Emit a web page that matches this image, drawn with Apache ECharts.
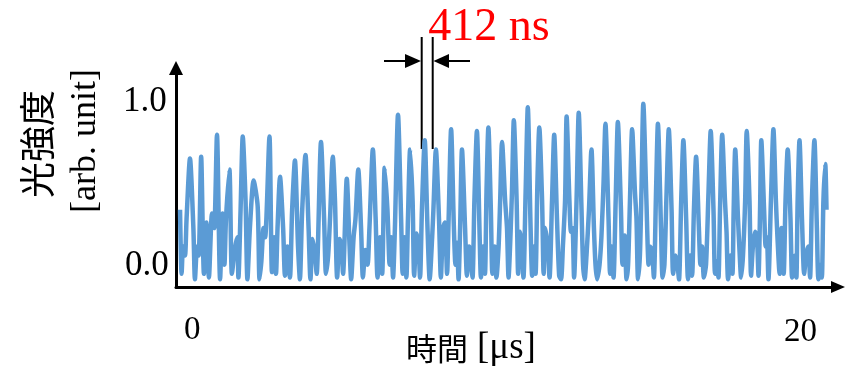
<!DOCTYPE html>
<html>
<head>
<meta charset="utf-8">
<script src="https://cdn.jsdelivr.net/npm/echarts@6/dist/echarts.min.js"></script>
<style>
  html, body { margin: 0; padding: 0; background: #fff; }
  #chart { width: 846px; height: 367px; }
</style>
</head>
<body>
<div id="chart"></div>
<script>
// time [us]
const timeUs = [
  0.00, 0.05, 0.10, 0.16, 0.21, 0.32, 0.43, 0.48, 0.55, 0.60,
  0.68, 0.77, 0.85, 0.93, 1.03, 1.10, 1.19, 1.29, 1.37, 1.43,
  1.48, 1.59, 1.67, 1.76, 1.84, 1.88, 1.95, 2.02, 2.11, 2.17,
  2.25, 2.37, 2.50, 2.56, 2.62, 2.69, 2.74, 2.88, 2.96, 3.03,
  3.09, 3.14, 3.22, 3.32, 3.38, 3.46, 3.54, 3.61, 3.70, 3.80,
  3.86, 3.93, 4.04, 4.14, 4.20, 4.27, 4.35, 4.40, 4.54, 4.64,
  4.70, 4.77, 4.83, 4.92, 4.99, 5.06, 5.14, 5.20, 5.25, 5.37,
  5.46, 5.51, 5.59, 5.65, 5.74, 5.83, 5.89, 5.97, 6.04, 6.10,
  6.21, 6.30, 6.36, 6.44, 6.51, 6.59, 6.68, 6.75, 6.80, 6.86,
  6.92, 7.02, 7.12, 7.17, 7.23, 7.29, 7.34, 7.41, 7.49, 7.54,
  7.62, 7.68, 7.73, 7.79, 7.88, 7.97, 8.04, 8.12, 8.16, 8.24,
  8.34, 8.40, 8.47, 8.53, 8.60, 8.65, 8.73, 8.82, 8.87, 8.92,
  8.97, 9.02, 9.08, 9.18, 9.24, 9.31, 9.37, 9.42, 9.48, 9.56,
  9.65, 9.69, 9.76, 9.82, 9.87, 9.93, 10.01, 10.06, 10.13, 10.19,
  10.26, 10.31, 10.37, 10.47, 10.53, 10.58, 10.64, 10.69, 10.75, 10.84,
  10.89, 10.95, 11.01, 11.06, 11.13, 11.20, 11.29, 11.34, 11.40, 11.45,
  11.51, 11.57, 11.66, 11.71, 11.76, 11.84, 11.90, 11.98, 12.05, 12.14,
  12.21, 12.27, 12.33, 12.40, 12.45, 12.54, 12.59, 12.64, 12.69, 12.77,
  12.84, 12.93, 12.98, 13.03, 13.09, 13.17, 13.25, 13.33, 13.38, 13.43,
  13.51, 13.57, 13.64, 13.70, 13.80, 13.85, 13.90, 13.96, 14.03, 14.10,
  14.20, 14.25, 14.32, 14.38, 14.43, 14.49, 14.56, 14.65, 14.70, 14.75,
  14.81, 14.86, 14.92, 15.02, 15.09, 15.13, 15.20, 15.26, 15.33, 15.39,
  15.49, 15.54, 15.60, 15.67, 15.74, 15.83, 15.88, 15.96, 16.02, 16.07,
  16.14, 16.21, 16.30, 16.36, 16.43, 16.49, 16.55, 16.62, 16.71, 16.76,
  16.81, 16.87, 16.94, 17.02, 17.09, 17.18, 17.23, 17.29, 17.34, 17.39,
  17.46, 17.55, 17.60, 17.65, 17.73, 17.79, 17.83, 17.88, 17.97, 18.02,
  18.07, 18.13, 18.20, 18.25, 18.34, 18.39, 18.45, 18.52, 18.58, 18.63,
  18.68, 18.72, 18.81, 18.86, 18.90, 18.95, 19.03, 19.11, 19.19, 19.24,
  19.31, 19.37, 19.44, 19.50, 19.57, 19.66, 19.71, 19.76, 19.81, 19.85,
  19.89, 19.95, 20.03, 20.10, 20.16, 20.23, 20.29, 20.35, 20.43, 20.51,
  20.56, 20.63, 20.67, 20.72, 20.78, 20.82
]

// light intensity [arb. unit]
const intensity = [
  0.40, 0.05, 0.20, 0.15, 0.35, 0.68, 0.30, 0.02, 0.20, 0.15,
  0.69, 0.05, 0.33, 0.03, 0.38, 0.30, 0.81, 0.02, 0.38, 0.10,
  0.35, 0.62, 0.05, 0.18, 0.25, 0.03, 0.40, 0.80, 0.45, 0.02,
  0.30, 0.56, 0.42, 0.02, 0.12, 0.30, 0.25, 0.80, 0.06, 0.25,
  0.05, 0.30, 0.58, 0.30, 0.04, 0.20, 0.03, 0.40, 0.67, 0.20,
  0.02, 0.38, 0.70, 0.30, 0.02, 0.24, 0.15, 0.05, 0.77, 0.35,
  0.05, 0.15, 0.35, 0.69, 0.45, 0.03, 0.24, 0.20, 0.05, 0.57,
  0.20, 0.02, 0.25, 0.35, 0.62, 0.30, 0.03, 0.18, 0.10, 0.30,
  0.73, 0.35, 0.03, 0.25, 0.05, 0.63, 0.40, 0.10, 0.25, 0.03,
  0.30, 0.92, 0.35, 0.05, 0.25, 0.03, 0.35, 0.73, 0.45, 0.04,
  0.27, 0.20, 0.03, 0.40, 0.78, 0.30, 0.02, 0.25, 0.40, 0.73,
  0.35, 0.03, 0.30, 0.33, 0.05, 0.35, 0.84, 0.30, 0.10, 0.22,
  0.02, 0.30, 0.73, 0.30, 0.04, 0.20, 0.12, 0.03, 0.45, 0.83,
  0.25, 0.03, 0.20, 0.05, 0.50, 0.85, 0.40, 0.05, 0.20, 0.03,
  0.20, 0.45, 0.77, 0.45, 0.30, 0.03, 0.25, 0.50, 0.89, 0.45,
  0.05, 0.28, 0.20, 0.03, 0.50, 0.96, 0.30, 0.04, 0.20, 0.05,
  0.55, 0.85, 0.45, 0.05, 0.30, 0.20, 0.03, 0.45, 0.81, 0.35,
  0.04, 0.02, 0.20, 0.45, 0.91, 0.45, 0.28, 0.30, 0.03, 0.45,
  0.93, 0.40, 0.10, 0.02, 0.15, 0.40, 0.73, 0.30, 0.10, 0.02,
  0.10, 0.25, 0.55, 0.87, 0.35, 0.05, 0.20, 0.03, 0.45, 0.88,
  0.40, 0.10, 0.26, 0.02, 0.10, 0.45, 0.84, 0.50, 0.35, 0.02,
  0.15, 0.50, 0.98, 0.45, 0.10, 0.20, 0.18, 0.03, 0.50, 0.87,
  0.30, 0.03, 0.10, 0.50, 0.84, 0.40, 0.05, 0.15, 0.10, 0.02,
  0.45, 0.78, 0.35, 0.02, 0.15, 0.04, 0.40, 0.69, 0.30, 0.10,
  0.20, 0.03, 0.10, 0.50, 0.83, 0.40, 0.05, 0.12, 0.03, 0.40,
  0.81, 0.45, 0.28, 0.02, 0.15, 0.05, 0.40, 0.73, 0.35, 0.17,
  0.03, 0.15, 0.45, 0.83, 0.45, 0.04, 0.20, 0.28, 0.25, 0.04,
  0.40, 0.78, 0.40, 0.20, 0.25, 0.02, 0.45, 0.84, 0.45, 0.25,
  0.05, 0.30, 0.05, 0.45, 0.73, 0.35, 0.03, 0.12, 0.15, 0.03,
  0.45, 0.78, 0.35, 0.05, 0.15, 0.20, 0.03, 0.45, 0.78, 0.30,
  0.02, 0.10, 0.03, 0.45, 0.65, 0.40
]

const yTickLabels = ["0.0", "1.0"]
const xTickLabels = ["0", "20"]

const SERIF = '"Liberation Serif", "Times New Roman", serif'
const SANS_JP = '"Noto Sans CJK JP", "Noto Sans", sans-serif'

const chart = echarts.init(document.getElementById("chart"), null, { renderer: "canvas" })

const option = {
  backgroundColor: "#fff",
  animation: false,
  grid: { left: 176, right: 8, top: 68, bottom: 80, containLabel: false },
  xAxis: {
    type: "value",
    min: -0.13,
    max: 21.19,
    splitLine: { show: false },
    axisTick: { show: false },
    axisLabel: { show: false },
    axisLine: {
      show: true,
      onZero: false,
      symbol: ["none", "triangle"],
      symbolSize: [12, 14],
      lineStyle: { color: "#000", width: 3 },
    },
  },
  yAxis: {
    type: "value",
    min: -0.022,
    max: 1.175,
    splitLine: { show: false },
    axisTick: { show: false },
    axisLabel: { show: false },
    axisLine: {
      show: true,
      onZero: false,
      symbol: ["none", "triangle"],
      symbolSize: [14, 14],
      lineStyle: { color: "#000", width: 3 },
    },
  },
  series: [
    {
      type: "line",
      data: timeUs.map((t, i) => [t, intensity[i]]),
      showSymbol: false,
      smooth: 0.25,
      clip: true,
      lineStyle: { color: "#5B9BD5", width: 4.5 },
    },
  ],
  graphic: [
    // tick labels
    { type: "text", left: 123, top: 84, style: { text: yTickLabels[1], font: `35px ${SERIF}`, fill: "#000" } },
    { type: "text", left: 125, top: 248, style: { text: yTickLabels[0], font: `35px ${SERIF}`, fill: "#000" } },
    { type: "text", left: 184, top: 314, style: { text: xTickLabels[0], font: `33px ${SERIF}`, fill: "#000" } },
    { type: "text", left: 784, top: 316, style: { text: xTickLabels[1], font: `33px ${SERIF}`, fill: "#000" } },
    // axis titles
    {
      type: "text",
      left: 406,
      top: 330,
      style: {
        text: "{a|時間}{b|[μs]}",
        rich: {
          a: { font: `31px ${SANS_JP}`, fill: "#000" },
          b: { font: `37px ${SERIF}`, fill: "#000", padding: [0, 0, 0, 9] },
        },
      },
    },
    {
      type: "text",
      x: 37,
      y: 144,
      rotation: Math.PI / 2,
      style: { text: "光強度", font: `36px ${SANS_JP}`, fill: "#000", align: "center", verticalAlign: "middle" },
    },
    {
      type: "text",
      x: 86,
      y: 141,
      rotation: Math.PI / 2,
      style: { text: "[arb. unit]", font: `36px ${SERIF}`, fill: "#000", align: "center", verticalAlign: "middle" },
    },
    // 412 ns annotation
    {
      type: "text",
      x: 489,
      y: 28,
      style: { text: "412 ns", font: `46px ${SERIF}`, fill: "#ff0000", align: "center", verticalAlign: "middle" },
    },
    { type: "line", shape: { x1: 421.7, y1: 37, x2: 421.7, y2: 149 }, style: { stroke: "#000", lineWidth: 2 } },
    { type: "line", shape: { x1: 432.7, y1: 37, x2: 432.7, y2: 149 }, style: { stroke: "#000", lineWidth: 2 } },
    { type: "line", shape: { x1: 384, y1: 61, x2: 408, y2: 61 }, style: { stroke: "#000", lineWidth: 2 } },
    { type: "polygon", shape: { points: [[405, 54], [421, 61], [405, 68]] }, style: { fill: "#000" } },
    { type: "line", shape: { x1: 446, y1: 61, x2: 470, y2: 61 }, style: { stroke: "#000", lineWidth: 2 } },
    { type: "polygon", shape: { points: [[449, 54], [433.5, 61], [449, 68]] }, style: { fill: "#000" } },
  ],
}

chart.setOption(option)
</script>
</body>
</html>
